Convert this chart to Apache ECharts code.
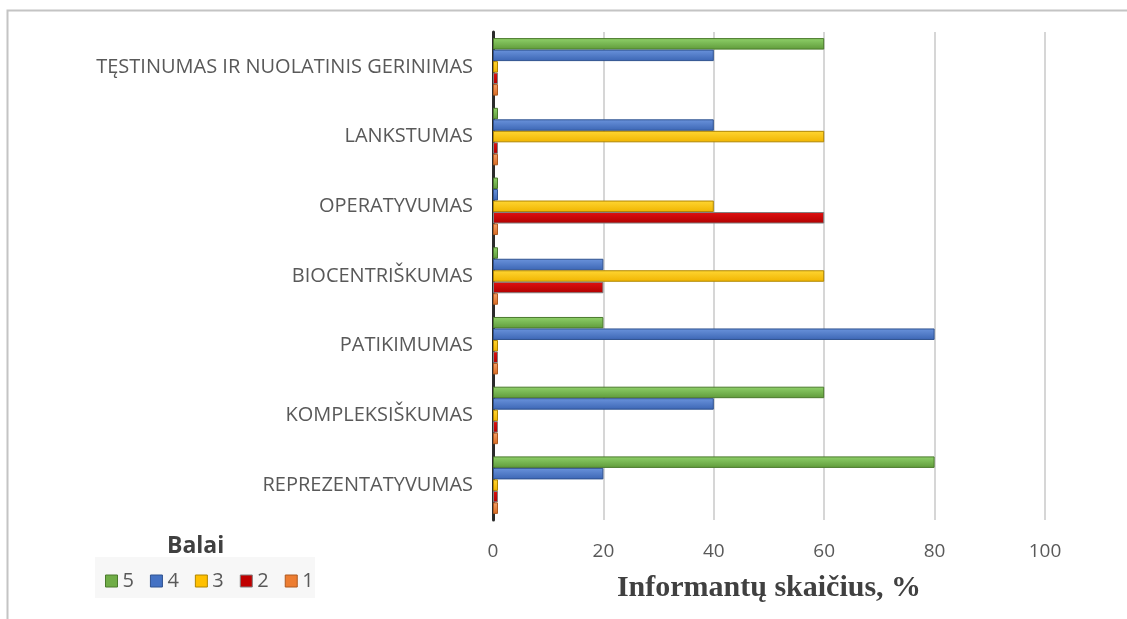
<!DOCTYPE html>
<html>
<head>
<meta charset="utf-8">
<script src="https://cdn.jsdelivr.net/npm/echarts@6/dist/echarts.min.js"></script>
<style>html,body{margin:0;padding:0;background:#fff;}#c{width:1127px;height:619px;}</style>
</head>
<body>
<div id="c"></div>
<script>
// Categories (bottom to top as drawn by ECharts)
var categories = ['REPREZENTATYVUMAS', 'KOMPLEKSIŠKUMAS', 'PATIKIMUMAS', 'BIOCENTRIŠKUMAS', 'OPERATYVUMAS', 'LANKSTUMAS', 'TĘSTINUMAS IR NUOLATINIS GERINIMAS'];
var score1 = [0, 0, 0, 0, 0, 0, 0];
var score2 = [0, 0, 0, 20, 60, 0, 0];
var score3 = [0, 0, 0, 60, 40, 60, 0];
var score4 = [20, 40, 80, 20, 0, 40, 40];
var score5 = [80, 60, 20, 0, 0, 0, 60];
var xTicks = [0, 20, 40, 60, 80, 100];
var legendOrder = ['5', '4', '3', '2', '1'];

function grad(top, bottom) {
  return new echarts.graphic.LinearGradient(0, 0, 0, 1, [
    {offset: 0, color: top}, {offset: 1, color: bottom}
  ]);
}
var styles = {
  '1': {fill: grad('#f6a06a', '#d86a20'), border: '#ae5a21', legend: '#ED7D31'},
  '2': {fill: grad('#e01010', '#b00000'), border: '#7f7f7f', legend: '#C00000'},
  '3': {fill: grad('#ffd633', '#f0b400'), border: '#b08600', legend: '#FFC000'},
  '4': {fill: grad('#6a93dc', '#3c66b4'), border: '#2f528f', legend: '#4472C4'},
  '5': {fill: grad('#8fd16a', '#5f9a3a'), border: '#4a7a2c', legend: '#70AD47'}
};
var seriesData = {'1': score1, '2': score2, '3': score3, '4': score4, '5': score5};

var series = ['5', '4', '3', '2', '1'].map(function (k) {
  return {
    name: k,
    type: 'bar',
    data: seriesData[k],
    barWidth: 11.5,
    barGap: '0%',
    barMinHeight: 5,
    color: styles[k].legend,
    itemStyle: {color: styles[k].fill, borderColor: styles[k].border, borderWidth: 1},
    emphasis: {disabled: true}
  };
});

var chart = echarts.init(document.getElementById('c'), null, {renderer: 'canvas'});
chart.setOption({
  animation: false,
  backgroundColor: '#ffffff',
  graphic: [{
    type: 'rect', silent: true, z: -10,
    shape: {x: 7.5, y: 10.5, width: 1140, height: 640},
    style: {fill: '#ffffff', stroke: '#c4c4c4', lineWidth: 2}
  }, {
    type: 'rect', silent: true, z: -5,
    shape: {x: 95, y: 557, width: 220, height: 41},
    style: {fill: '#f7f7f7'}
  }],
  title: {
    text: 'Balai', left: 162, top: 530,
    textStyle: {fontFamily: 'Open Sans', fontWeight: 'bold', fontSize: 23, color: '#404040'}
  },
  legend: {
    data: legendOrder.map(function (k) {
      return {name: k, itemStyle: {color: styles[k].legend, borderColor: styles[k].border, borderWidth: 1}};
    }),
    left: 100, top: 566,
    itemWidth: 12, itemHeight: 12, itemGap: 16,
    icon: 'rect',
    textStyle: {fontFamily: 'Open Sans', fontSize: 20, color: '#595959'}
  },
  grid: {left: 493, right: 82, top: 32, bottom: 99, containLabel: false},
  xAxis: {
    type: 'value', min: 0, max: 100, interval: 20,
    axisLine: {show: false}, axisTick: {show: false},
    splitLine: {lineStyle: {color: '#d6d6d6', width: 2}},
    axisLabel: {color: '#595959', fontSize: 19, fontFamily: 'Open Sans', margin: 22,
      formatter: function (v) { return xTicks.indexOf(v) >= 0 ? String(v) : ''; }},
    name: 'Informantų skaičius, %',
    nameLocation: 'middle', nameGap: 53,
    nameTextStyle: {fontFamily: 'Liberation Serif', fontWeight: 'bold', fontSize: 30, color: '#404040'}
  },
  yAxis: {
    type: 'category', data: categories,
    axisLine: {lineStyle: {color: '#2b2b2b', width: 3}},
    axisTick: {show: false},
    axisLabel: {color: '#595959', fontSize: 20, fontFamily: 'Open Sans', margin: 20, padding: [4, 0, 0, 0]}
  },
  series: series
});
</script>
</body>
</html>
